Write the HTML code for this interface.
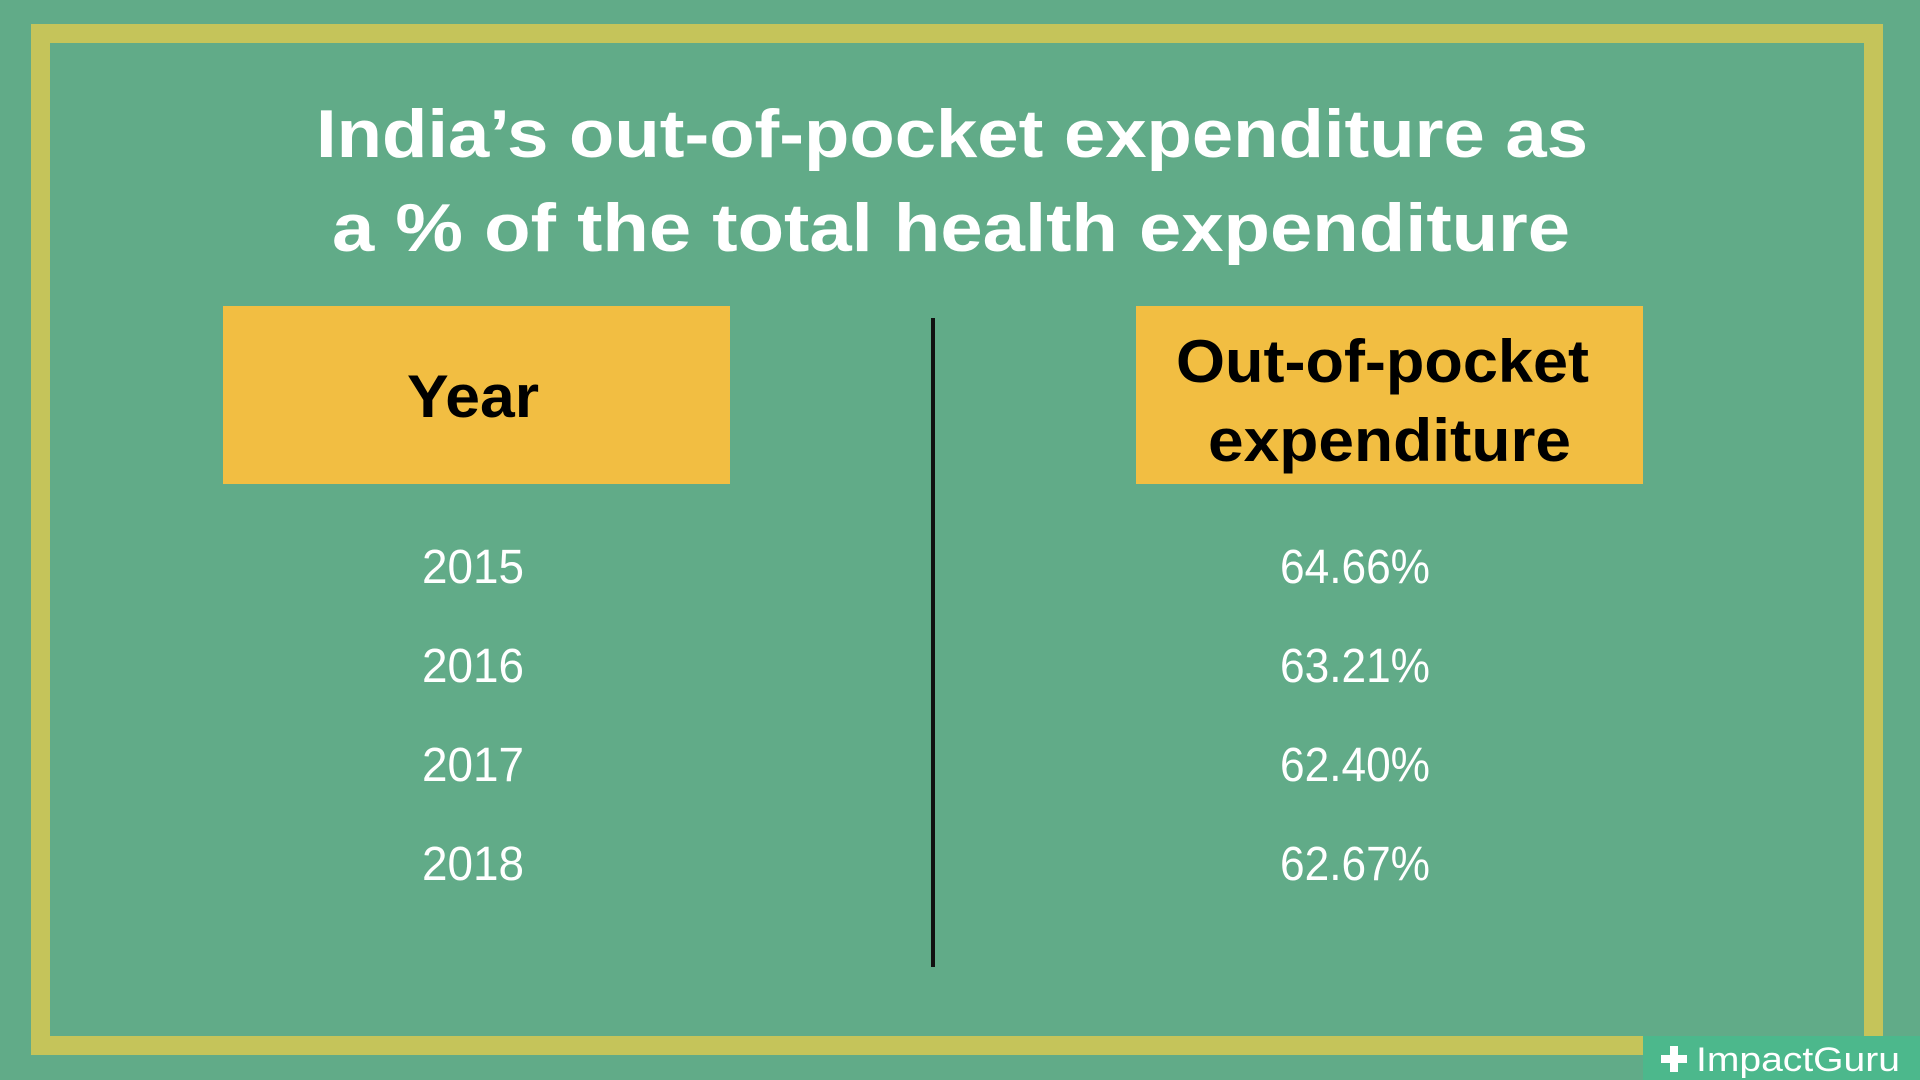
<!DOCTYPE html>
<html><head><meta charset="utf-8"><style>
html,body{margin:0;padding:0;background:#61ab88;}
svg{display:block}
</style></head><body>
<svg width="1920" height="1080" viewBox="0 0 1920 1080" xmlns="http://www.w3.org/2000/svg">
<rect width="1920" height="1080" fill="#61ab88"/>
<rect x="40.5" y="33.5" width="1833" height="1012" fill="none" stroke="#c5c45a" stroke-width="19"/>
<g font-family="Liberation Sans, sans-serif" font-weight="bold" fill="#ffffff">
<text x="316" y="157" font-size="68" textLength="1272" lengthAdjust="spacingAndGlyphs">India’s out-of-pocket expenditure as</text>
<text x="332" y="251" font-size="68" textLength="1238" lengthAdjust="spacingAndGlyphs">a % of the total health expenditure</text>
</g>
<rect x="223" y="306" width="507" height="178" fill="#f2be42"/>
<rect x="1136" y="306" width="507" height="178" fill="#f2be42"/>
<rect x="931" y="318" width="4" height="649" fill="#111"/>
<g font-family="Liberation Sans, sans-serif" font-weight="bold" fill="#000">
<text x="407" y="417" font-size="60" textLength="132" lengthAdjust="spacingAndGlyphs">Year</text>
<text x="1176" y="382" font-size="60" textLength="413" lengthAdjust="spacingAndGlyphs">Out-of-pocket</text>
<text x="1208" y="461" font-size="60" textLength="363" lengthAdjust="spacingAndGlyphs">expenditure</text>
</g>
<g font-family="Liberation Sans, sans-serif" font-size="48" fill="#ffffff">
<text x="422" y="583" textLength="102" lengthAdjust="spacingAndGlyphs">2015</text>
<text x="422" y="682" textLength="102" lengthAdjust="spacingAndGlyphs">2016</text>
<text x="422" y="781" textLength="102" lengthAdjust="spacingAndGlyphs">2017</text>
<text x="422" y="880" textLength="102" lengthAdjust="spacingAndGlyphs">2018</text>
<text x="1280" y="583" textLength="150" lengthAdjust="spacingAndGlyphs">64.66%</text>
<text x="1280" y="682" textLength="150" lengthAdjust="spacingAndGlyphs">63.21%</text>
<text x="1280" y="781" textLength="150" lengthAdjust="spacingAndGlyphs">62.40%</text>
<text x="1280" y="880" textLength="150" lengthAdjust="spacingAndGlyphs">62.67%</text>
</g>
<rect x="1643" y="1036" width="277" height="44" fill="#4cb88c"/>
<path d="M1670 1046h8v9h9v8h-9v9h-8v-9h-9v-8h9z" fill="#fff"/>
<text x="1696" y="1071" font-family="Liberation Sans, sans-serif" font-size="34" fill="#fff" textLength="204" lengthAdjust="spacingAndGlyphs">ImpactGuru</text>
</svg>
</body></html>
